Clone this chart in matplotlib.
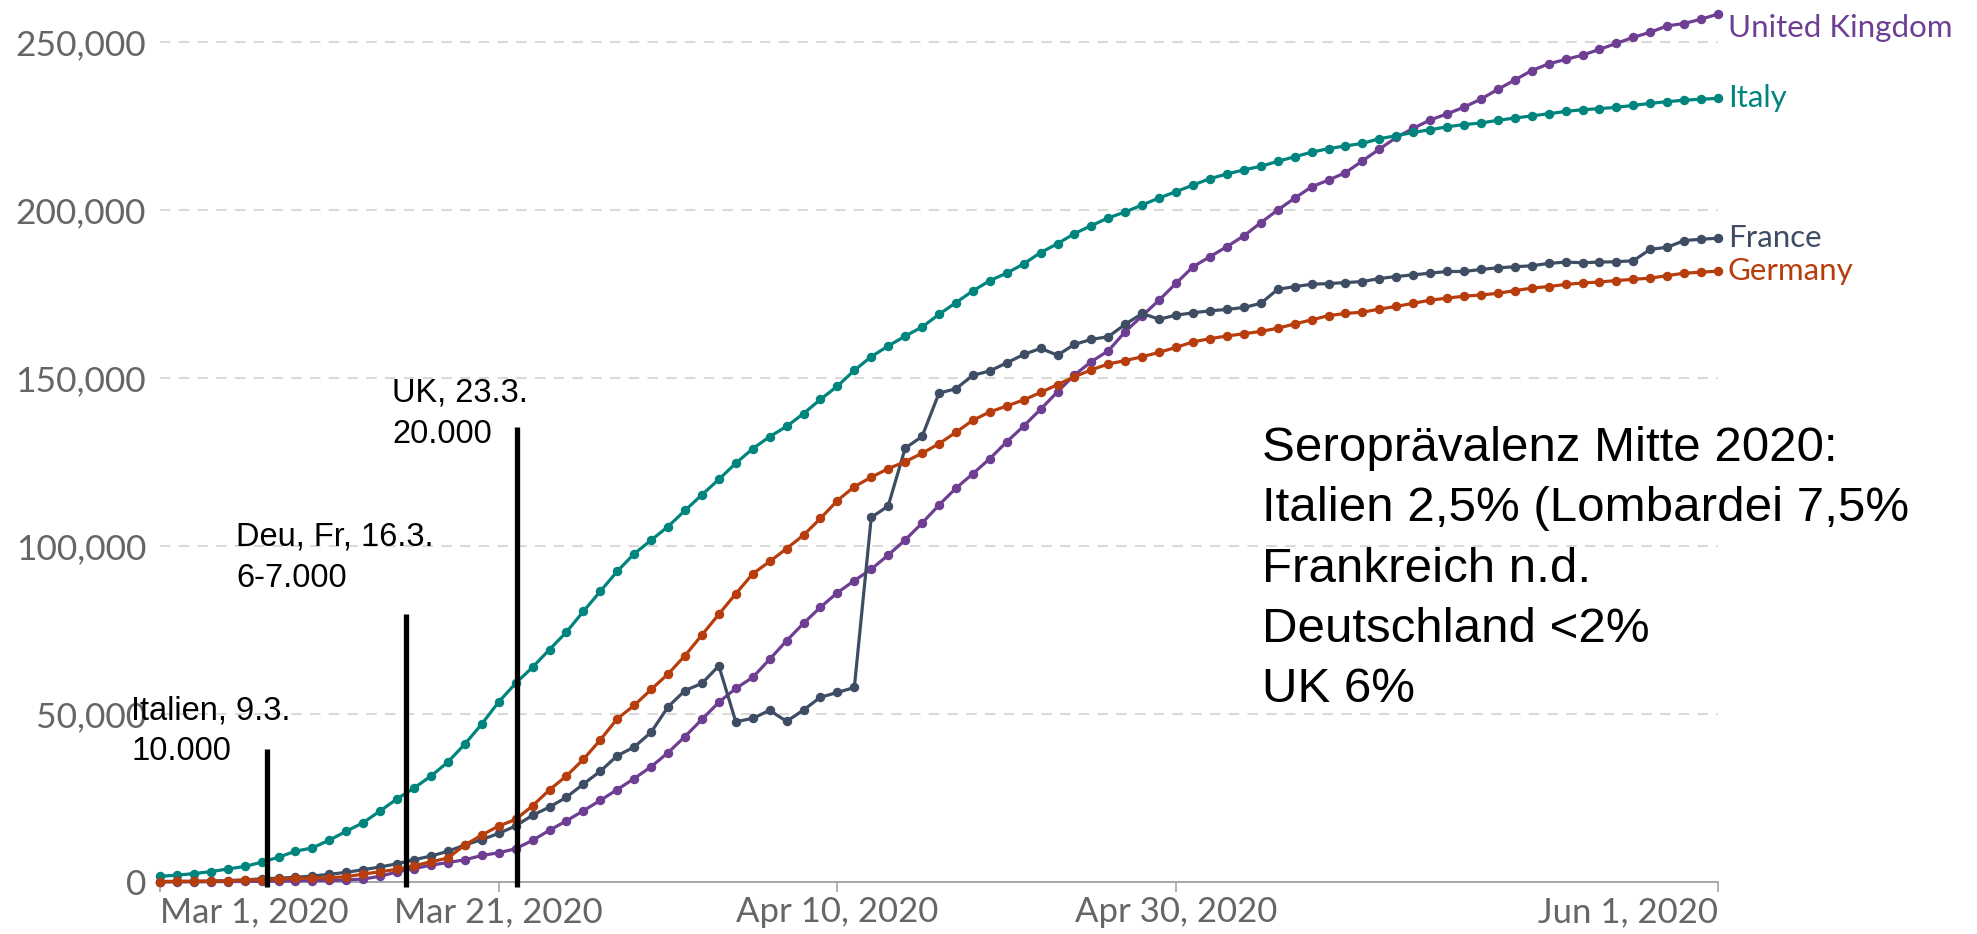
import numpy as np
import pandas as pd
import matplotlib
matplotlib.use("Agg")
import matplotlib.pyplot as plt
import matplotlib.dates as mdates

# cumulative confirmed cases, one value per day from Mar 1 to Jun 1 2020
dates = pd.date_range("2020-03-01", "2020-06-01", freq="D")

italy = [1694, 2036, 2502, 3089, 3858, 4636, 5883, 7375, 9172, 10149,
         12462, 15113, 17660, 21157, 24747, 27980, 31506, 35713, 41035, 47021,
         53578, 59138, 63927, 69176, 74386, 80539, 86498, 92472, 97689, 101739,
         105792, 110574, 115242, 119827, 124632, 128948, 132547, 135586, 139422, 143626,
         147577, 152271, 156363, 159516, 162488, 165155, 168941, 172434, 175925, 178972,
         181228, 183957, 187327, 189973, 192994, 195351, 197675, 199414, 201505, 203591,
         205463, 207428, 209328, 210717, 211938, 213013, 214457, 215858, 217185, 218268,
         219070, 219814, 221216, 222104, 223096, 223885, 224760, 225435, 225886, 226699,
         227364, 228006, 228658, 229327, 229858, 230158, 230555, 231139, 231732, 232248,
         232664, 232997, 233197]

germany = [117, 150, 188, 240, 349, 534, 684, 847, 1112, 1139,
           1296, 1567, 2369, 3062, 3795, 4838, 6012, 7156, 10999, 13957,
           16662, 18610, 22672, 27436, 31554, 36508, 42288, 48582, 52547, 57298,
           61913, 67366, 73522, 79696, 85778, 91714, 95391, 99225, 103228, 108202,
           113525, 117658, 120479, 123016, 125098, 127584, 130450, 133830, 137439, 139897,
           141672, 143457, 145694, 148046, 150383, 152438, 154175, 155193, 156337, 157641,
           159119, 160758, 161703, 162496, 163175, 163860, 164807, 166091, 167300, 168551,
           169218, 169575, 170508, 171306, 172239, 173152, 173772, 174355, 174697, 175210,
           176007, 176752, 177212, 177850, 178281, 178570, 179002, 179364, 179717, 180458,
           181196, 181482, 181815]

france = [130, 191, 212, 285, 423, 613, 949, 1126, 1412, 1784,
          2281, 2876, 3661, 4469, 5423, 6633, 7730, 9134, 10995, 12612,
          14459, 16689, 19856, 22302, 25233, 29155, 32964, 37575, 40174, 44550,
          52128, 56989, 59105, 64338, 47700, 48700, 51100, 47800, 51200, 55000,
          56400, 57900, 108500, 111900, 129100, 132600, 145500, 146800, 150800, 152100,
          154500, 157000, 158800, 156800, 160000, 161500, 162300, 166000, 169200, 167500,
          168700, 169400, 170000, 170400, 171000, 172200, 176400, 177200, 177900, 178100,
          178400, 178700, 179600, 180200, 180700, 181200, 181700, 181700, 182300, 182800,
          183100, 183400, 184100, 184500, 184300, 184500, 184600, 184900, 188300, 188900,
          190900, 191300, 191600]

uk = [36, 40, 51, 87, 116, 164, 209, 278, 321, 383,
      460, 594, 900, 1700, 3000, 4000, 5000, 5800, 6600, 7900,
      8700, 9900, 12400, 15400, 18200, 21200, 24300, 27500, 30800, 34300,
      38500, 43300, 48400, 53500, 57600, 60900, 66300, 71800, 77000, 81800,
      86100, 89700, 93100, 97300, 101800, 106800, 112200, 117200, 121500, 126000,
      131000, 135700, 140700, 145900, 150900, 154900, 158100, 163800, 168500, 173200,
      178200, 183100, 186100, 189100, 192300, 196200, 200000, 203500, 206900, 208900,
      211100, 214600, 218100, 221600, 224300, 226800, 228600, 230600, 233000, 235900,
      238700, 241500, 243500, 244800, 246100, 247800, 249600, 251400, 252900, 254800,
      255500, 256800, 258300]

series = [
    ("United Kingdom", uk, "#6d3e91", -10),
    ("Italy", italy, "#00847e", 0),
    ("France", france, "#3e4d63", 0),
    ("Germany", germany, "#b83d0c", 0),
]

tick_dates = ["2020-03-01", "2020-03-21", "2020-04-10", "2020-04-30", "2020-06-01"]
tick_labels = ["Mar 1, 2020", "Mar 21, 2020", "Apr 10, 2020", "Apr 30, 2020", "Jun 1, 2020"]
y_ticks = [0, 50000, 100000, 150000, 200000, 250000]

W, H = 1977, 934
fig = plt.figure(figsize=(W / 100, H / 100), dpi=100)
ax = fig.add_axes([160 / W, 52 / H, (1718 - 160) / W, 873.6 / H])

for name, vals, col, dy in series:
    ax.plot(dates, vals, color=col, lw=2.3, marker="o", markersize=5.8,
            clip_on=False, zorder=3)
    ax.annotate(name, xy=(dates[-1], vals[-1]), xytext=(7, dy),
                textcoords="offset points", va="center", ha="left",
                color=col, fontsize=22.5, family="Lato")

ax.set_xlim(dates[0], dates[-1])
ax.set_ylim(0, 260000)

ax.set_yticks(y_ticks)
ax.set_yticklabels([f"{v:,}" for v in y_ticks])
for v in y_ticks[1:]:
    ax.axhline(v, color="#d9d9d9", lw=1.5, ls=(0, (5, 4)), zorder=1)

ax.set_xticks(pd.to_datetime(tick_dates))
ax.set_xticklabels(tick_labels)
labs = ax.get_xticklabels()
labs[0].set_ha("left")
labs[-1].set_ha("right")

for s in ["top", "right", "left"]:
    ax.spines[s].set_visible(False)
ax.spines["bottom"].set_color("#a6a6a6")
ax.spines["bottom"].set_linewidth(1.4)
ax.tick_params(axis="x", length=7, width=1.2, color="#a6a6a6", pad=3,
               labelsize=25, labelcolor="#666666")
ax.tick_params(axis="y", length=0, pad=10, labelsize=25.5, labelcolor="#666666")
for t in ax.get_xticklabels() + ax.get_yticklabels():
    t.set_family("Lato")

# hand-drawn markers of the slide
d0 = mdates.date2num(dates[0])
for xd, top in [(6.3, 39600), (14.5, 79800), (21.1, 135400)]:
    ax.plot([d0 + xd, d0 + xd], [-1500, top], color="black", lw=3.8,
            solid_capstyle="butt", clip_on=False, zorder=4)


def px(x, y):
    return x / W, 1 - y / H


notes = [
    (131, 719, "Italien, 9.3."), (131, 760, "10.000"),
    (236, 546, "Deu, Fr, 16.3."), (236, 587, "6-7.000"),
    (392, 402, "UK, 23.3."), (392, 443, "20.000"),
]
for x, y, s in notes:
    fig.text(*px(x, y), s, fontsize=23.5, family="Liberation Sans",
             va="baseline", ha="left", color="black", zorder=5)

sero = ["Seroprävalenz Mitte 2020:", "Italien 2,5% (Lombardei 7,5%",
        "Frankreich n.d.", "Deutschland <2%", "UK 6%"]
for i, s in enumerate(sero):
    fig.text(*px(1262, 461 + i * 60.3), s, fontsize=35.5,
             family="Liberation Sans", va="baseline", ha="left", color="black")

fig.savefig("out.png", dpi=100)
